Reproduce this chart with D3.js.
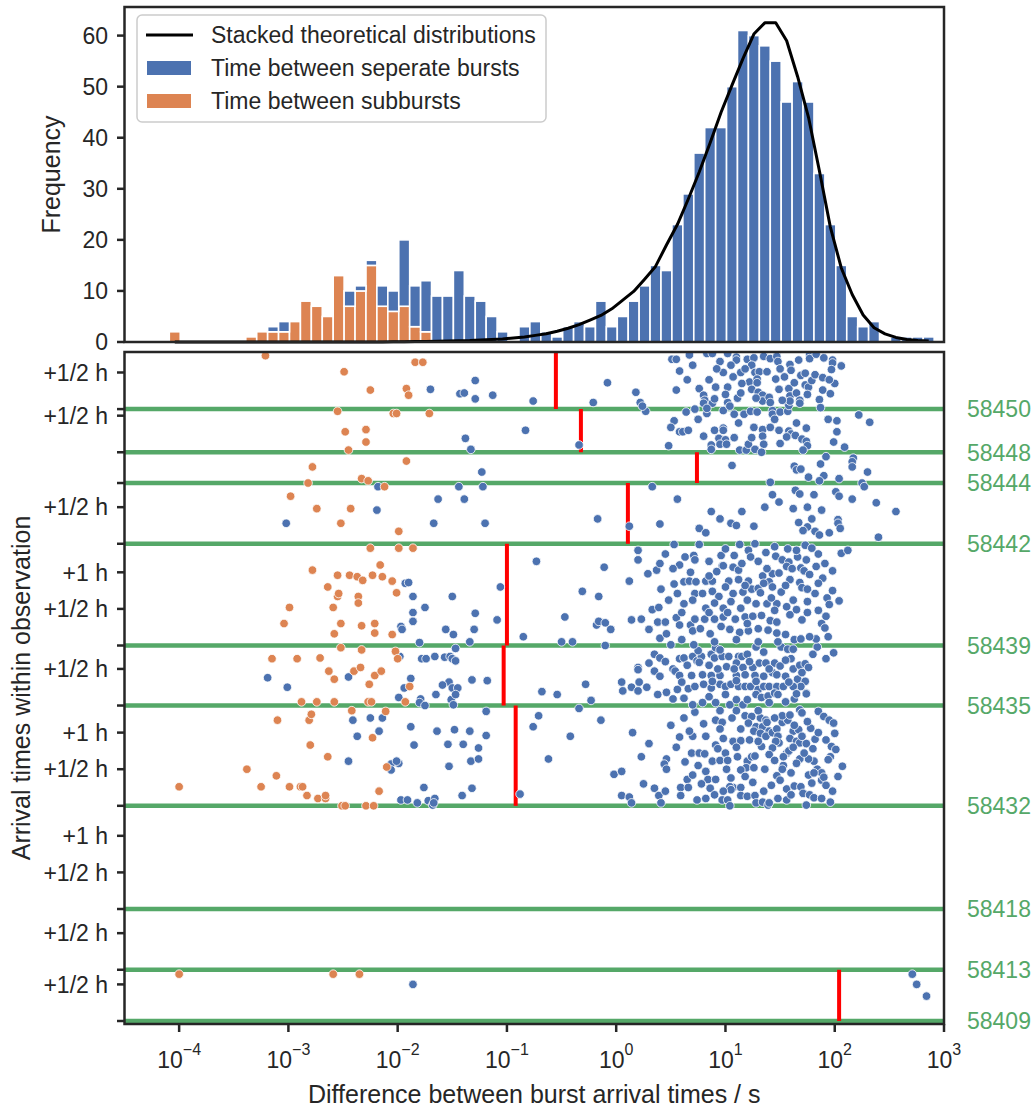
<!DOCTYPE html>
<html>
<head>
<meta charset="utf-8">
<script src="https://cdn.jsdelivr.net/npm/d3@7"></script>
<style>
  body { margin: 0; background: #fff; }
  svg text { font-family: "Liberation Sans", Arial, sans-serif; fill: #262626; }
</style>
</head>
<body>
<div id="chart"></div>
<script>
// ---------------- data ----------------
// histogram: log10 bins of 0.1 dex, first edge at 10^-4.09 s
var histFirstEdge = -4.09;
var histBinWidth = 0.1;
var subburstCounts = [2,0,0,0,0,0,0,1,2,2,2,4,8,7,5,13,7,10,15,7,6,7,3,2,0,0,0,0,0,0,
  0,0,0,0,0,0,0,0,0,0,0,0,0,0,0,0,0,0,0,0,0,0,0,0,0,0,0,0,0,0,0,0,0,0,0,0,0,0,0,0];
var burstCounts = [0,0,0,0,0,0,0,0,0,1,2,0,0,0,0,0,3,1,1,4,4,13,8,10,9,9,14,9,8,5,
  2,0,3,4,2,1,3,4,3,8,3,5,8,11,15,14,23,29,37,42,42,50,61,60,58,55,47,51,47,33,
  23,15,5,3,4,0,1,1,1,1];
// stacked theoretical distribution, value at each bin centre
var theoryCurve = [0,0,0,0,0,0,0,0,0,0,0,0,0,0,0,0,0,0,0,0,
  0.05,0.05,0.1,0.1,0.15,0.2,0.25,0.3,0.4,0.5,0.6,0.8,1.0,1.3,1.6,2.1,2.7,3.4,4.3,5.2,
  6.5,8.2,9.9,12.3,14.8,19.0,23.0,28.0,33.3,39.0,45.0,50.3,55.5,60.3,62.5,62.5,59.0,52.0,44.0,33.5,
  22.5,14.5,9.3,5.3,2.8,1.6,0.9,0.5,0.3,0.2];
var yTicksTop = [0,10,20,30,40,50,60];
var xTickExp = [-4,-3,-2,-1,0,1,2,3];

// observations (MJD), length in hours, red line position (log10 s)
var obsMJD   = [58409, 58413, 58418, 58432, 58435, 58439, 58442, 58444, 58448, 58450];
var obsHours = [0.70, 0.83, 1.41, 1.37, 0.82, 1.39, 0.83, 0.42, 0.59, 0.78];
var obsCut   = [2.04, null, null, -0.92, -1.03, -1.00, 0.107, 0.739, -0.323, -0.552];

// points: [log10 time difference / s, hours since observation start]
var sub58409 = [[-4.00,0.64],[-2.59,0.64],[-2.35,0.64]];
var burst58409 = [[-1.86,0.50],[2.71,0.64],[2.75,0.50],[2.84,0.34]];
var sub58413 = [], burst58413 = [];
var sub58418 = [], burst58418 = [];
var sub58432 = [[-2.42,1.30],[-2.11,1.29],[-2.81,1.17],[-2.79,1.25],[-3.10,1.17],[-2.23,0.93],[-2.80,0.83],[-2.64,0.67],[-3.38,0.50],[-3.11,0.41],[-2.10,0.53],[-4.00,0.26],[-3.25,0.26],[-2.99,0.26],[-2.89,0.26],[-2.87,0.26],[-2.83,0.14],[-2.73,0.10],[-2.66,0.10],[-2.66,0.14],[-2.51,0.00],[-2.48,0.00],[-2.29,0.00],[-2.22,0.00],[-2.17,0.20]];
var burst58432 = [[-2.41,1.17],[-2.25,1.20],[-2.14,1.20],[-2.17,1.02],[-2.37,0.95],[-1.88,1.08],[-1.85,0.83],[-2.45,0.61],[-2.06,0.57],[-1.99,0.58],[-2.01,0.61],[-2.06,0.49],[-1.76,0.25],[-1.97,0.08],[-1.91,0.08],[-1.82,0.04],[-1.72,0.07],[-1.66,0.10],[-1.68,0.01],[-1.67,0.04],[-1.64,1.02],[-1.48,1.04],[-1.34,1.02],[-1.19,1.29],[-1.19,0.96],[-1.54,0.84],[-1.40,0.84],[-1.26,0.79],[-1.53,0.54],[-1.33,0.61],[-1.26,0.64],[-1.41,0.14],[-1.32,0.24],[-0.88,0.16],[-0.76,1.08],[-0.71,1.23],[-0.62,0.64],
  [-0.14,1.17],[-0.42,0.95],[-0.34,1.33],[-0.02,0.43],[0.05,0.47],[0.05,0.14],[0.12,0.12],[0.14,0.04],[0.23,0.67],[0.35,0.24],[0.39,0.14],[0.41,0.04],[0.46,0.64],[0.44,0.57],[0.46,0.50],[0.58,0.94],[0.70,0.95],[0.67,1.02],[0.82,0.95],[0.69,0.72],[0.76,0.72],[0.81,0.71],[0.65,0.36],[0.59,0.25],[0.66,0.25],[0.59,0.14],[0.74,0.08],[0.82,0.10],[0.82,0.47],[0.84,0.36],[0.88,0.61],[0.91,0.36],[0.86,0.24],[0.91,1.17],[0.97,1.14],[0.95,1.05],[0.98,0.92],[0.91,0.83],[0.93,0.78],[0.97,0.08],[1.02,0.08],[1.04,0.00],[1.06,1.20],[1.14,1.05],[1.07,0.88],[1.14,0.89],[1.11,0.67],[1.20,0.61],[1.24,0.67],[1.27,0.68],[1.19,0.52],[1.26,0.52],[1.01,0.50],[1.05,0.38],[1.07,0.25],[1.14,0.25],[1.04,0.26],[1.05,0.22],[1.14,0.49],[1.14,0.14],[1.20,0.13],[1.27,0.14],[1.28,0.04],[1.34,0.05],[1.39,0.01],[1.40,0.04],[1.18,1.23],[1.24,1.22],[1.32,1.20],[1.37,1.17],[1.21,1.13],[1.28,1.08],[1.34,1.08],[1.38,1.14],[1.40,1.02],[1.26,1.02],[1.32,0.99],[1.37,0.95],[1.43,1.00],[1.47,1.05],[1.48,0.95],[1.49,0.86],[1.46,0.88],[1.33,0.81],[1.43,0.79],[1.47,0.41],[1.53,0.55],[1.56,0.72],[1.58,0.75],[1.56,0.23],[1.56,0.08],[1.48,0.10],[1.52,1.14],[1.57,1.17],[1.62,1.02],[1.67,1.04],[1.59,0.92],[1.52,1.23],[1.59,1.24],[1.68,1.31],[1.70,1.27],[1.65,0.88],[1.68,0.86],[1.74,0.85],[1.82,0.91],[1.78,1.06],[1.85,1.29],[1.90,1.22],[1.95,1.17],[1.99,1.13],[2.00,0.99],[1.97,0.81],[2.01,0.77],[1.63,0.27],[1.69,0.26],[1.76,0.42],[1.79,0.31],[1.84,0.50],[1.88,0.45],[1.88,0.35],[1.90,0.39],[1.96,0.67],[1.94,0.63],[2.07,0.54],[1.98,0.20],[1.71,0.17],[1.77,0.15],[1.81,0.11],[1.74,0.01],[1.81,0.45],[1.81,0.61],[1.76,0.64],[1.68,0.64],[1.53,0.67],
  [0.50,1.10],[0.62,1.20],[0.72,1.28],[0.80,1.12],[0.55,0.80],[0.63,0.60],[0.75,0.55],[0.95,0.62],[1.00,0.72],[1.10,0.80],[1.22,0.90],[1.30,0.88],[1.40,0.70],[1.45,0.62],[1.62,0.80],[1.70,0.95],[1.75,1.15],[1.85,1.00],[1.92,0.90],[1.60,0.45],[1.50,0.35],[1.42,0.28],[1.35,0.20],[1.25,0.32],[1.18,0.40],[0.98,0.20],[0.90,0.15],[0.78,0.30],[0.70,0.42],[1.65,0.58],[1.72,0.72],[1.92,0.28],[1.88,0.10],[1.60,0.15],[1.30,1.30],[1.10,1.30],[0.95,1.30],[1.45,1.20],[1.63,1.10],[1.80,0.78],[0.30,0.85],[0.15,1.00],[0.45,0.20],[0.25,0.30],[1.02,0.62],[1.52,0.50],[1.36,0.50],[2.03,0.40],[1.96,0.05]];
var sub58435 = [[-2.52,0.79],[-2.33,0.76],[-2.02,0.74],[-2.00,0.64],[-3.15,0.64],[-2.92,0.64],[-2.71,0.65],[-2.63,0.47],[-2.58,0.36],[-2.40,0.47],[-2.34,0.52],[-2.21,0.41],[-2.15,0.47],[-2.26,0.29],[-1.89,0.26],[-2.88,0.05],[-2.74,0.05],[-2.58,0.05],[-2.27,0.05],[-2.24,0.05],[-1.93,0.05]];
var burst58435 = [[-1.98,0.67],[-1.78,0.64],[-1.74,0.64],[-1.66,0.67],[-1.57,0.66],[-1.52,0.67],[-1.50,0.64],[-1.47,0.61],[-3.19,0.38],[-3.01,0.25],[-2.45,0.39],[-1.88,0.37],[-1.94,0.24],[-1.53,0.32],[-1.50,0.24],[-1.45,0.24],[-1.59,0.28],[-1.32,0.35],[-1.18,0.34],[-1.65,0.15],[-1.99,0.11],[-1.79,0.09],[-1.80,0.04],[-1.75,0.00],[-1.51,0.08],[-1.47,0.15],[-1.49,0.01],[-0.68,0.19],[-1.47,0.78],
  [0.35,0.70],[0.40,0.65],[0.20,0.52],[0.20,0.49],[0.35,0.47],[0.52,0.50],[0.54,0.47],[0.58,0.41],[0.58,0.64],[0.62,0.65],[0.70,0.67],[0.74,0.61],[0.78,0.67],[0.76,0.59],[0.87,0.70],[0.90,0.65],[0.97,0.67],[1.03,0.67],[1.12,0.67],[1.15,0.67],[1.20,0.70],[1.01,0.53],[1.10,0.58],[1.16,0.52],[1.25,0.52],[1.31,0.58],[1.37,0.58],[1.45,0.58],[1.50,0.54],[1.62,0.50],[1.68,0.55],[1.73,0.57],[1.76,0.52],[1.60,0.64],[1.92,0.64],[1.99,0.72],[0.69,0.41],[0.79,0.42],[0.87,0.41],[0.95,0.41],[1.10,0.41],[1.18,0.42],[1.27,0.41],[1.35,0.40],[1.43,0.45],[1.47,0.42],[1.66,0.36],[1.73,0.33],[1.69,0.26],[1.74,0.17],[-0.28,0.29],[0.05,0.32],[0.14,0.25],[0.21,0.32],[0.28,0.25],[0.38,0.15],[0.46,0.18],[0.56,0.22],[0.66,0.23],[0.72,0.26],[0.80,0.29],[0.87,0.24],[0.95,0.29],[1.00,0.26],[1.05,0.29],[1.12,0.26],[1.18,0.26],[1.23,0.26],[1.30,0.22],[1.35,0.26],[1.40,0.26],[1.47,0.26],[1.53,0.26],[1.62,0.26],[-0.54,0.15],[-0.23,0.07],[0.06,0.20],[0.20,0.20],[0.52,0.09],[0.70,0.01],[0.79,0.04],[0.91,0.04],[1.04,0.01],[1.10,0.08],[1.16,0.01],[1.28,0.15],[1.33,0.11],[1.39,0.13],[1.45,0.17],[1.40,0.04],[1.48,0.15],[1.63,0.09],[1.65,0.16],[1.74,0.16],[0.91,0.79],[1.28,0.80],[1.51,0.80],[1.57,0.77],[1.62,0.77],[1.84,0.80],
  [0.45,0.60],[0.65,0.55],[0.85,0.55],[0.93,0.50],[1.08,0.50],[1.22,0.60],[1.40,0.50],[1.55,0.62],[1.55,0.40],[0.60,0.32],[0.88,0.33],[1.10,0.34],[1.28,0.33],[1.58,0.32],[0.62,0.10],[0.85,0.12],[1.00,0.15],[1.20,0.08],[1.55,0.05],[0.40,0.40],[0.30,0.58],[1.80,0.70],[1.70,0.45],[1.35,0.73],[0.95,0.76],[0.75,0.75]];
var sub58439 = [[-2.25,1.33],[-1.99,1.33],[-1.86,1.33],[-2.16,1.10],[-2.78,1.03],[-2.55,0.96],[-2.44,0.96],[-2.37,0.94],[-2.32,0.89],[-2.23,0.96],[-2.14,0.94],[-2.05,0.88],[-2.64,0.80],[-2.55,0.67],[-2.54,0.71],[-2.36,0.67],[-2.36,0.58],[-2.01,0.72],[-2.99,0.52],[-2.59,0.52],[-3.04,0.30],[-2.52,0.30],[-2.33,0.27],[-2.21,0.30],[-2.21,0.17],[-2.58,0.16],[-2.05,0.15]];
var burst58439 = [[-1.93,0.85],[-1.90,0.86],[-1.86,0.67],[-1.50,0.67],[-1.75,0.52],[-1.86,0.45],[-1.29,0.44],[-1.09,0.35],[-1.86,0.33],[-1.97,0.26],[-1.96,0.22],[-1.56,0.22],[-1.49,0.15],[-1.30,0.22],[-1.34,0.05],[-1.80,0.04],[-1.06,0.80],[-0.85,0.12],[-0.73,1.15],
  [0.53,1.38],[0.76,1.38],[1.13,1.38],[1.27,1.39],[1.45,1.35],[1.57,1.32],[1.73,1.37],[1.79,1.33],[0.20,1.30],[0.20,1.17],[-0.11,1.07],[0.63,1.21],[0.71,1.23],[0.72,1.17],[0.96,1.23],[0.97,1.09],[1.08,1.23],[1.21,1.30],[1.23,1.21],[1.37,1.27],[1.46,1.22],[1.52,1.17],[1.58,1.14],[1.56,1.08],[1.66,1.21],[1.74,1.17],[1.83,1.08],[1.91,1.12],[1.89,0.92],[2.06,1.26],[2.12,1.30],[0.29,0.98],[0.37,1.03],[0.92,1.01],[1.07,1.07],[1.12,1.03],[0.98,1.09],[1.34,0.95],[1.43,0.98],[1.49,0.99],[1.61,1.05],[1.69,1.06],[1.72,1.02],[1.77,0.97],[-0.31,0.74],[-0.16,0.67],[0.12,0.88],[0.41,0.77],[0.53,0.84],[0.62,0.87],[0.67,0.88],[0.73,0.87],[0.82,0.88],[0.88,0.88],[1.03,0.88],[1.12,0.90],[1.21,0.88],[0.56,0.71],[0.72,0.71],[0.79,0.71],[0.88,0.74],[0.94,0.67],[1.07,0.71],[1.16,0.73],[1.24,0.77],[1.30,0.78],[1.32,0.72],[1.40,0.87],[1.43,0.80],[1.51,0.73],[1.59,0.90],[1.68,0.86],[1.70,0.79],[1.75,0.77],[1.82,0.71],[1.93,0.65],[2.04,0.61],[1.95,0.56],[0.62,0.57],[0.82,0.51],[0.98,0.51],[1.14,0.51],[1.28,0.57],[1.38,0.57],[1.47,0.57],[1.56,0.53],[0.33,0.49],[0.39,0.52],[-0.47,0.39],[-0.18,0.28],[-0.16,0.33],[-0.10,0.31],[-0.05,0.22],[0.14,0.35],[0.23,0.36],[0.38,0.32],[0.45,0.32],[0.55,0.38],[0.68,0.28],[0.72,0.36],[0.81,0.36],[0.90,0.36],[0.98,0.39],[1.09,0.36],[1.18,0.39],[1.25,0.40],[1.33,0.41],[1.41,0.34],[1.47,0.32],[1.59,0.42],[1.65,0.49],[1.75,0.45],[1.85,0.48],[0.70,0.20],[0.77,0.23],[0.86,0.16],[0.96,0.26],[1.04,0.22],[1.13,0.18],[1.21,0.20],[1.30,0.23],[1.39,0.21],[1.47,0.17],[1.55,0.15],[1.63,0.08],[1.88,0.30],[1.91,0.24],[1.94,0.12],[1.83,0.09],[1.77,0.12],[1.69,0.09],[0.40,0.10],[0.46,0.16],[0.60,0.08],[0.50,0.01],[0.71,0.01],[-0.50,0.05],[-0.40,0.05],[-0.10,0.00],
  [0.45,1.25],[0.58,1.10],[0.85,1.15],[1.00,1.32],[1.15,1.12],[1.30,1.15],[1.65,1.30],[1.85,1.25],[1.98,1.02],[0.68,1.00],[0.85,0.95],[1.00,0.80],[1.18,0.82],[1.35,0.85],[1.55,0.82],[1.85,0.85],[1.98,0.75],[0.48,0.62],[0.70,0.62],[0.90,0.58],[1.05,0.60],[1.20,0.62],[1.42,0.65],[1.62,0.62],[1.75,0.60],[1.92,0.40],[0.60,0.45],[0.85,0.45],[1.02,0.45],[1.45,0.48],[1.70,0.35],[0.30,0.22],[0.58,0.28],[0.90,0.05],[1.10,0.08],[1.30,0.05],[1.48,0.05],[1.20,0.30],[0.40,1.12],[1.38,1.05],[0.52,1.05]];
var sub58442 = [[-2.98,0.65],[-2.74,0.48],[-2.43,0.48],[-2.52,0.28],[-1.99,0.17],[-2.12,0.78]];
var burst58442 = [[-3.02,0.28],[-2.19,0.46],[-1.63,0.61],[-1.39,0.61],[-1.67,0.28],[-1.20,0.28],[-2.18,0.78],[-1.44,0.78],[-1.22,0.78],[0.33,0.78],[0.56,0.61],[-0.17,0.34],[0.12,0.24],[0.40,0.27],[0.87,0.44],[0.95,0.34],[1.15,0.44],[0.76,0.21],[0.82,0.15],[1.05,0.28],[1.10,0.25],[1.26,0.24],[1.36,0.50],[1.43,0.67],[1.49,0.57],[1.64,0.73],[1.68,0.68],[1.81,0.67],[2.01,0.71],[2.04,0.65],[2.16,0.61],[2.38,0.56],[2.56,0.44],[1.62,0.48],[1.75,0.50],[1.88,0.46],[1.67,0.29],[1.75,0.23],[1.79,0.34],[1.82,0.17],[1.71,0.18],[1.86,0.12],[1.95,0.15],[2.03,0.33],[2.03,0.28],[2.05,0.21],[2.40,0.09],[2.25,0.83],[2.27,0.78]];
var sub58444 = [[-1.92,0.30],[-2.78,0.22],[-2.33,0.06],[-2.27,0.03],[-2.82,0.00]];
var burst58444 = [[-1.23,0.15],[1.06,0.24],[1.63,0.23],[1.65,0.18],[1.69,0.19],[1.76,0.08],[1.92,0.36],[1.87,0.26],[1.90,0.10],[1.86,0.03],[2.17,0.34],[2.16,0.29],[2.16,0.22],[2.04,0.06],[2.30,0.15],[1.41,0.01]];
var sub58448 = [[-2.55,0.56],[-2.04,0.53],[-2.01,0.53],[-1.71,0.53],[-2.48,0.28],[-2.29,0.31],[-2.29,0.14],[-2.45,0.03]];
var burst58448 = [[-0.83,0.30],[-1.38,0.19],[-1.33,0.04],[-0.34,0.10],[0.53,0.43],[0.50,0.34],[0.58,0.28],[0.61,0.28],[0.66,0.30],[0.48,0.09],[0.90,0.30],[0.98,0.33],[0.98,0.30],[0.94,0.19],[1.00,0.17],[0.87,0.10],[0.87,0.04],[0.95,0.11],[1.01,0.11],[1.08,0.20],[1.13,0.03],[1.19,0.03],[1.21,0.11],[1.27,0.04],[1.24,0.20],[1.26,0.34],[1.34,0.31],[1.34,0.22],[1.35,0.11],[1.33,0.00],[1.41,0.34],[1.49,0.30],[1.58,0.29],[1.60,0.25],[1.56,0.21],[1.64,0.23],[1.70,0.18],[1.74,0.15],[1.75,0.09],[1.71,0.03],[1.74,0.33],[1.94,0.45],[2.02,0.43],[2.22,0.51],[2.32,0.41],[2.02,0.28],[1.99,0.14],[2.09,0.07],[0.27,0.56],[0.64,0.55],[0.83,0.53],[0.98,0.57],[1.08,0.52],[1.17,0.52],[1.23,0.56],[1.29,0.55],[1.43,0.57],[1.43,0.52],[1.50,0.55],[1.57,0.56],
  [0.75,0.45],[1.12,0.40],[1.45,0.45],[1.65,0.40],[0.80,0.22],[1.50,0.12]];
var sub58450 = [[-3.21,0.73],[-1.84,0.64],[-1.77,0.64],[-2.49,0.51],[-2.25,0.26],[-1.92,0.28],[-1.90,0.19]];
var burst58450 = [[-1.70,0.27],[-1.43,0.21],[-1.39,0.22],[-1.29,0.39],[-1.29,0.14],[-1.13,0.19],[-0.76,0.11],
  [-0.21,0.09],[-0.08,0.36],[0.18,0.23],[0.22,0.09],[0.24,0.04],[0.51,0.68],[0.55,0.68],[0.67,0.74],[0.58,0.52],[0.55,0.26],[0.72,0.00],[0.76,0.28],[0.80,0.19],[0.81,0.12],[0.80,0.08],[0.88,0.08],[0.90,0.14],[0.83,0.01],[0.85,0.40],[0.91,0.30],[0.95,0.65],[0.98,0.50],[1.02,0.30],[1.02,0.09],[1.04,0.04],[1.07,0.44],[1.14,0.50],[1.10,0.71],[1.10,0.67],[1.11,0.15],[1.14,0.22],[1.20,0.68],[1.26,0.70],[1.24,0.60],[1.27,0.50],[1.31,0.51],[1.38,0.51],[1.22,0.37],[1.29,0.41],[1.29,0.36],[1.24,0.27],[1.30,0.23],[1.34,0.19],[1.34,0.11],[1.28,0.15],[1.40,0.16],[1.41,0.09],[1.35,0.72],[1.41,0.69],[1.47,0.72],[1.48,0.65],[1.46,0.41],[1.49,0.27],[1.54,0.44],[1.58,0.28],[1.59,0.18],[1.56,0.10],[1.58,0.05],[1.59,0.11],[1.59,0.61],[1.60,0.53],[1.63,0.36],[1.65,0.22],[1.68,0.12],[1.68,0.08],[1.69,0.46],[1.73,0.49],[1.73,0.33],[1.76,0.30],[1.77,0.74],[1.77,0.69],[1.83,0.75],[1.79,0.39],[1.82,0.47],[1.86,0.13],[1.87,0.02],[1.89,0.43],[1.89,0.26],[1.96,0.21],[1.98,0.67],[1.98,0.63],[1.97,0.54],[2.06,0.59],[2.00,0.35],[0.83,0.76],[0.88,0.76],[1.02,0.76],
  [0.65,0.40],[0.70,0.60],[0.92,0.55],[1.05,0.60],[1.18,0.55],[1.50,0.55],[1.67,0.67],[1.90,0.70],[1.95,0.40],[1.15,0.35],[1.00,0.20],[1.52,0.12],[1.75,0.20]];

var subByObs   = [sub58409, sub58413, sub58418, sub58432, sub58435, sub58439, sub58442, sub58444, sub58448, sub58450];
var burstByObs = [burst58409, burst58413, burst58418, burst58432, burst58435, burst58439, burst58442, burst58444, burst58448, burst58450];

// ---------------- drawing ----------------
var W = 1035, H = 1110;
var blue = "#4c72b0", orange = "#dd8452", green = "#55a868", ink = "#262626";
var fs = 23;

var svg = d3.select("#chart").append("svg")
    .attr("width", W).attr("height", H);

var x = d3.scaleLog().domain([Math.pow(10, -4.5), 1e3]).range([124.5, 944]);
var yTop = d3.scaleLinear().domain([0, 65.6]).range([342, 7]);

// observation start times stacked on top of each other
var obsStart = [];
var acc = 0;
obsHours.forEach(function(h) { obsStart.push(acc); acc += h; });
var yBot = d3.scaleLinear().domain([-0.041, acc]).range([1024, 352]);

function lx(v) { return x(Math.pow(10, v)); }

/////////////////////// top panel: histogram ///////////////////////
var bins = subburstCounts.map(function(c, k) {
  var e0 = histFirstEdge + k * histBinWidth;
  return {x0: lx(e0), x1: lx(e0 + histBinWidth), sub: c, burst: burstCounts[k], theory: theoryCurve[k],
          xc: lx(e0 + histBinWidth / 2)};
});

var gTop = svg.append("g");
gTop.selectAll("rect.sub").data(bins.filter(function(b) { return b.sub > 0; }))
  .join("rect").attr("class", "sub")
  .attr("x", function(b) { return b.x0; })
  .attr("width", function(b) { return b.x1 - b.x0; })
  .attr("y", function(b) { return yTop(b.sub); })
  .attr("height", function(b) { return yTop(0) - yTop(b.sub); })
  .attr("fill", orange).attr("stroke", "#fff").attr("stroke-width", 1.6);

gTop.selectAll("rect.burst").data(bins.filter(function(b) { return b.burst > 0; }))
  .join("rect").attr("class", "burst")
  .attr("x", function(b) { return b.x0; })
  .attr("width", function(b) { return b.x1 - b.x0; })
  .attr("y", function(b) { return yTop(b.sub + b.burst); })
  .attr("height", function(b) { return yTop(b.sub) - yTop(b.sub + b.burst); })
  .attr("fill", blue).attr("stroke", "#fff").attr("stroke-width", 1.6);

var line = d3.line().x(function(b) { return b.xc; }).y(function(b) { return yTop(b.theory); });
gTop.append("path").datum(bins).attr("d", line)
  .attr("fill", "none").attr("stroke", "#000").attr("stroke-width", 3).attr("stroke-linejoin", "round");

// frame + y ticks
gTop.append("rect").attr("x", 124.5).attr("y", 7).attr("width", 944 - 124.5).attr("height", 342 - 7)
  .attr("fill", "none").attr("stroke", ink).attr("stroke-width", 2.5);
yTicksTop.forEach(function(t) {
  gTop.append("line").attr("x1", 117).attr("x2", 124.5).attr("y1", yTop(t)).attr("y2", yTop(t))
    .attr("stroke", ink).attr("stroke-width", 2.5);
  gTop.append("text").attr("x", 108).attr("y", yTop(t)).attr("dy", "0.36em")
    .attr("text-anchor", "end").style("font-size", fs + "px").text(t);
});
gTop.append("text").attr("transform", "translate(60," + ((7 + 342) / 2) + ") rotate(-90)")
  .attr("text-anchor", "middle").style("font-size", "25px").text("Frequency");

// legend
var lg = gTop.append("g");
lg.append("rect").attr("x", 137).attr("y", 15).attr("width", 409).attr("height", 107).attr("rx", 5)
  .attr("fill", "#fff").attr("fill-opacity", 0.8).attr("stroke", "#cccccc").attr("stroke-width", 1.5);
lg.append("line").attr("x1", 146).attr("x2", 193).attr("y1", 35).attr("y2", 35)
  .attr("stroke", "#000").attr("stroke-width", 3);
lg.append("rect").attr("x", 147).attr("y", 61).attr("width", 44).attr("height", 14).attr("fill", blue);
lg.append("rect").attr("x", 147).attr("y", 94).attr("width", 44).attr("height", 14).attr("fill", orange);
[["Stacked theoretical distributions", 35], ["Time between seperate bursts", 68], ["Time between subbursts", 101]]
  .forEach(function(d) {
    lg.append("text").attr("x", 211).attr("y", d[1]).attr("dy", "0.36em")
      .style("font-size", fs + "px").text(d[0]);
  });

/////////////////////// bottom panel: arrival times ///////////////////////
var gBot = svg.append("g");
svg.append("clipPath").attr("id", "clipBot").append("rect")
  .attr("x", 124.5).attr("y", 352).attr("width", 944 - 124.5).attr("height", 1024 - 352);
var plot = gBot.append("g").attr("clip-path", "url(#clipBot)");

// green observation separators
obsStart.forEach(function(s, i) {
  plot.append("line").attr("x1", 124.5).attr("x2", 944).attr("y1", yBot(s)).attr("y2", yBot(s))
    .attr("stroke", green).attr("stroke-width", 4.5);
});
// red lines
obsCut.forEach(function(c, i) {
  if (c === null) return;
  plot.append("line").attr("x1", lx(c)).attr("x2", lx(c))
    .attr("y1", yBot(obsStart[i])).attr("y2", yBot(obsStart[i] + obsHours[i]))
    .attr("stroke", "#ff0000").attr("stroke-width", 4);
});

// points
var burstPts = [], subPts = [];
burstByObs.forEach(function(arr, i) { arr.forEach(function(p) { burstPts.push([p[0], obsStart[i] + p[1]]); }); });
subByObs.forEach(function(arr, i) { arr.forEach(function(p) { subPts.push([p[0], obsStart[i] + p[1]]); }); });

plot.append("g").selectAll("circle").data(burstPts).join("circle")
  .attr("cx", function(d) { return lx(d[0]); }).attr("cy", function(d) { return yBot(d[1]); })
  .attr("r", 4.3).attr("fill", blue).attr("stroke", "#fff").attr("stroke-width", 0.8);
plot.append("g").selectAll("circle").data(subPts).join("circle")
  .attr("cx", function(d) { return lx(d[0]); }).attr("cy", function(d) { return yBot(d[1]); })
  .attr("r", 4.3).attr("fill", orange).attr("stroke", "#fff").attr("stroke-width", 0.8);

// frame
gBot.append("rect").attr("x", 124.5).attr("y", 352).attr("width", 944 - 124.5).attr("height", 1024 - 352)
  .attr("fill", "none").attr("stroke", ink).attr("stroke-width", 2.5);

// y ticks: observation starts (no label), +1/2 h, +1 h
var yTicksBot = [];
obsStart.forEach(function(s, i) {
  yTicksBot.push({v: s, label: ""});
  if (obsHours[i] > 0.5) yTicksBot.push({v: s + 0.5, label: "+1/2 h"});
  if (obsHours[i] > 1.0) yTicksBot.push({v: s + 1.0, label: "+1 h"});
});
yTicksBot.forEach(function(t) {
  gBot.append("line").attr("x1", 117).attr("x2", 124.5).attr("y1", yBot(t.v)).attr("y2", yBot(t.v))
    .attr("stroke", ink).attr("stroke-width", 2.5);
  if (t.label) gBot.append("text").attr("x", 108).attr("y", yBot(t.v)).attr("dy", "0.36em")
    .attr("text-anchor", "end").style("font-size", fs + "px").text(t.label);
});
// MJD labels on the right
obsStart.forEach(function(s, i) {
  gBot.append("text").attr("x", 967).attr("y", yBot(s)).attr("dy", "0.36em")
    .style("font-size", fs + "px").style("fill", green).text(obsMJD[i]);
});
gBot.append("text").attr("transform", "translate(30," + ((352 + 1024) / 2) + ") rotate(-90)")
  .attr("text-anchor", "middle").style("font-size", "25px").text("Arrival times within observation");

// x axis
xTickExp.forEach(function(e) {
  var px = lx(e);
  gBot.append("line").attr("x1", px).attr("x2", px).attr("y1", 1024).attr("y2", 1032)
    .attr("stroke", ink).attr("stroke-width", 2.5);
  var t = gBot.append("text").attr("x", px).attr("y", 1068).attr("text-anchor", "middle")
    .style("font-size", fs + "px");
  t.append("tspan").text("10");
  t.append("tspan").attr("dy", -13).style("font-size", "16px").text(e < 0 ? "\u2212" + (-e) : e);
});
gBot.append("text").attr("x", (124.5 + 944) / 2).attr("y", 1103).attr("text-anchor", "middle")
  .style("font-size", "25px").text("Difference between burst arrival times / s");
</script>
</body>
</html>
